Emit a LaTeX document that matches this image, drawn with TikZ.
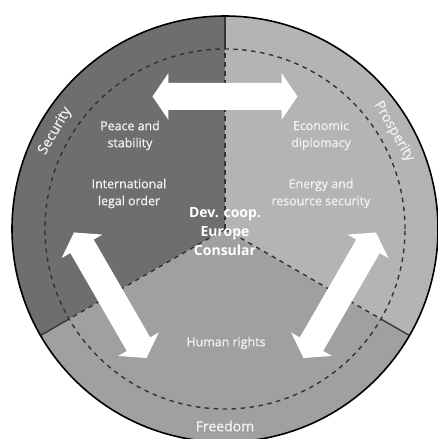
\documentclass[tikz,border=0pt]{standalone}
\usepackage{fontspec}
\setmainfont{Open Sans}
\newfontfamily\labfont{Open Sans}[FakeBold=0.7]
\definecolor{secC}{HTML}{6E6E6E}
\definecolor{proC}{HTML}{B4B4B4}
\definecolor{freC}{HTML}{A0A0A0}
\definecolor{lineC}{HTML}{333333}
\definecolor{txtC}{HTML}{F2F2F2}
\tikzset{
  dashline/.style={lineC, line width=1.4pt, dash pattern=on 4.5pt off 4.5pt},
  solidline/.style={lineC, line width=1.3pt},
  lab/.style={text=txtC, align=center, inner sep=0pt, font=\labfont\fontsize{12.4}{17}\selectfont},
  ringlab/.style={text=txtC, inner sep=0pt, font=\labfont\fontsize{14}{16}\selectfont},
  centerlab/.style={text=white, align=center, inner sep=0pt, font=\fontsize{14}{19}\selectfont\bfseries},
  arrowshape/.style={fill=white},
}
\begin{document}
\begin{tikzpicture}[x=1pt,y=1pt]
\useasboundingbox (-225,-210) rectangle (213,229);
\clip (-225,-210) rectangle (213,229);
\fill[white] (-225,-210) rectangle (213,229);
% sectors
\fill[secC] (0,0) -- (90:213pt) arc (90:210:213pt) -- cycle;
\fill[freC] (0,0) -- (210:213pt) arc (210:330:213pt) -- cycle;
\fill[proC] (0,0) -- (330:213pt) arc (330:450:213pt) -- cycle;
% boundaries
\draw[dashline] (0,0) circle[radius=180pt];
\foreach \a in {90,210,330} {
  \draw[dashline] (0,0) -- (\a:180pt);
  \draw[solidline] (\a:180pt) -- (\a:213pt);
}
\draw[black, line width=1.6pt] (0,0) circle[radius=213pt];
% arrows
\foreach \r in {0,120,240} {
  \fill[arrowshape, rotate=\r] (-72.5,132.5) -- (-56.5,156) -- (-56.5,146) -- (56.5,146) -- (56.5,156)
     -- (72.5,132.5) -- (56.5,109) -- (56.5,119) -- (-56.5,119) -- (-56.5,109) -- cycle;
}
% labels
\node[lab] (peace) at (-95,93.5) {Peace and\\stability};
\node[lab] (intl) at (-96,35.5) {International\\legal order};
\node[lab] (econ) at (96,93.5) {Economic\\diplomacy};
\node[lab] (energy) at (96,35.5) {Energy and\\resource security};
\node[lab] (human) at (1,-114) {Human rights};
\node[centerlab] (core) at (0,-3) {Dev. coop.\\Europe\\Consular};
% ring labels
\node[ringlab, rotate=60] (security) at (150:196pt) {Security};
\node[ringlab, rotate=-60] (prosperity) at (30:195pt) {Prosperity};
\node[ringlab] (freedom) at (270:197pt) {Freedom};
\end{tikzpicture}
\end{document}
